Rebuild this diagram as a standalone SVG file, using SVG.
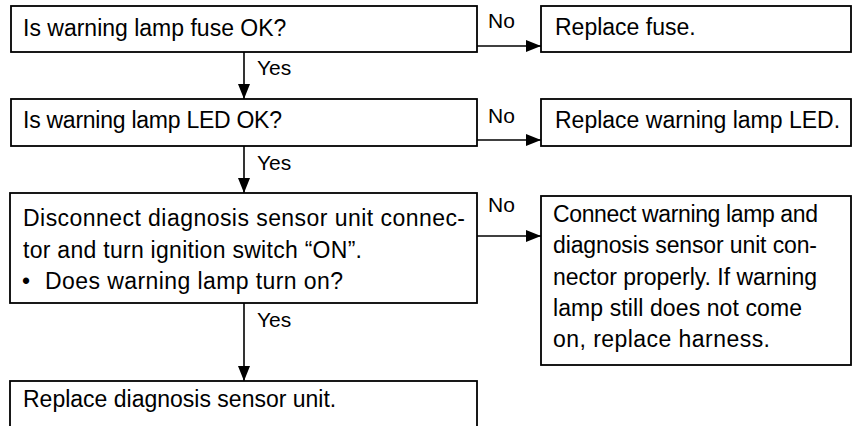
<svg xmlns="http://www.w3.org/2000/svg" width="852" height="426" viewBox="0 0 852 426">
<defs>
<marker id="ah" markerWidth="15" markerHeight="12" refX="15" refY="6" orient="auto" markerUnits="userSpaceOnUse">
<path d="M0,0 L15,6 L0,12 Z" fill="#000"/>
</marker>
<style>
.box{fill:#fff;stroke:#000;stroke-width:1.8}
.t{font-family:"Liberation Sans",Arial,sans-serif;font-size:23px;fill:#000}
.l{font-family:"Liberation Sans",Arial,sans-serif;font-size:21px;fill:#000}
.c{stroke:#000;stroke-width:1.6;fill:none}
</style>
</defs>
<rect width="852" height="426" fill="#fff"/>
<g id="connectors">
<line class="c" x1="244" y1="52" x2="244" y2="99" marker-end="url(#ah)"/>
<line class="c" x1="244" y1="146" x2="244" y2="193" marker-end="url(#ah)"/>
<line class="c" x1="244" y1="303" x2="244" y2="381" marker-end="url(#ah)"/>
<line class="c" x1="477" y1="46" x2="541" y2="46" marker-end="url(#ah)"/>
<line class="c" x1="477" y1="140" x2="541" y2="140" marker-end="url(#ah)"/>
<line class="c" x1="477" y1="236" x2="541" y2="236" marker-end="url(#ah)"/>
<text class="l" x="257" y="75">Yes</text>
<text class="l" x="257" y="170">Yes</text>
<text class="l" x="257" y="327">Yes</text>
<text class="l" x="488" y="28">No</text>
<text class="l" x="488" y="123">No</text>
<text class="l" x="488" y="212">No</text>
</g>
<g id="n1">
<rect class="box" x="11" y="6" width="466" height="46"/>
<text class="t" x="23" y="36">Is warning lamp fuse OK?</text>
</g>
<g id="n2">
<rect class="box" x="541" y="6" width="310" height="46"/>
<text class="t" x="555" y="35">Replace fuse.</text>
</g>
<g id="n3">
<rect class="box" x="11" y="99" width="466" height="47"/>
<text class="t" x="23" y="128" textLength="259" lengthAdjust="spacing">Is warning lamp LED OK?</text>
</g>
<g id="n4">
<rect class="box" x="541" y="99" width="310" height="47"/>
<text class="t" x="555" y="128">Replace warning lamp LED.</text>
</g>
<g id="n5">
<rect class="box" x="10" y="193" width="467" height="110"/>
<text class="t" x="23" y="226" textLength="442" lengthAdjust="spacing">Disconnect diagnosis sensor unit connec-</text>
<text class="t" x="23" y="258" textLength="339" lengthAdjust="spacing">tor and turn ignition switch “ON”.</text>
<text class="t" x="22" y="289">•</text>
<text class="t" x="45" y="289" textLength="298" lengthAdjust="spacing">Does warning lamp turn on?</text>
</g>
<g id="n6">
<rect class="box" x="541" y="196" width="310" height="169"/>
<text class="t" x="553" y="222" textLength="265" lengthAdjust="spacing">Connect warning lamp and</text>
<text class="t" x="553" y="253" textLength="264" lengthAdjust="spacing">diagnosis sensor unit con-</text>
<text class="t" x="553" y="285" textLength="264" lengthAdjust="spacing">nector properly. If warning</text>
<text class="t" x="553" y="316" textLength="249" lengthAdjust="spacing">lamp still does not come</text>
<text class="t" x="553" y="347" textLength="217" lengthAdjust="spacing">on, replace harness.</text>
</g>
<g id="n7">
<rect class="box" x="10" y="381" width="467" height="60"/>
<text class="t" x="23" y="407">Replace diagnosis sensor unit.</text>
</g>
</svg>
